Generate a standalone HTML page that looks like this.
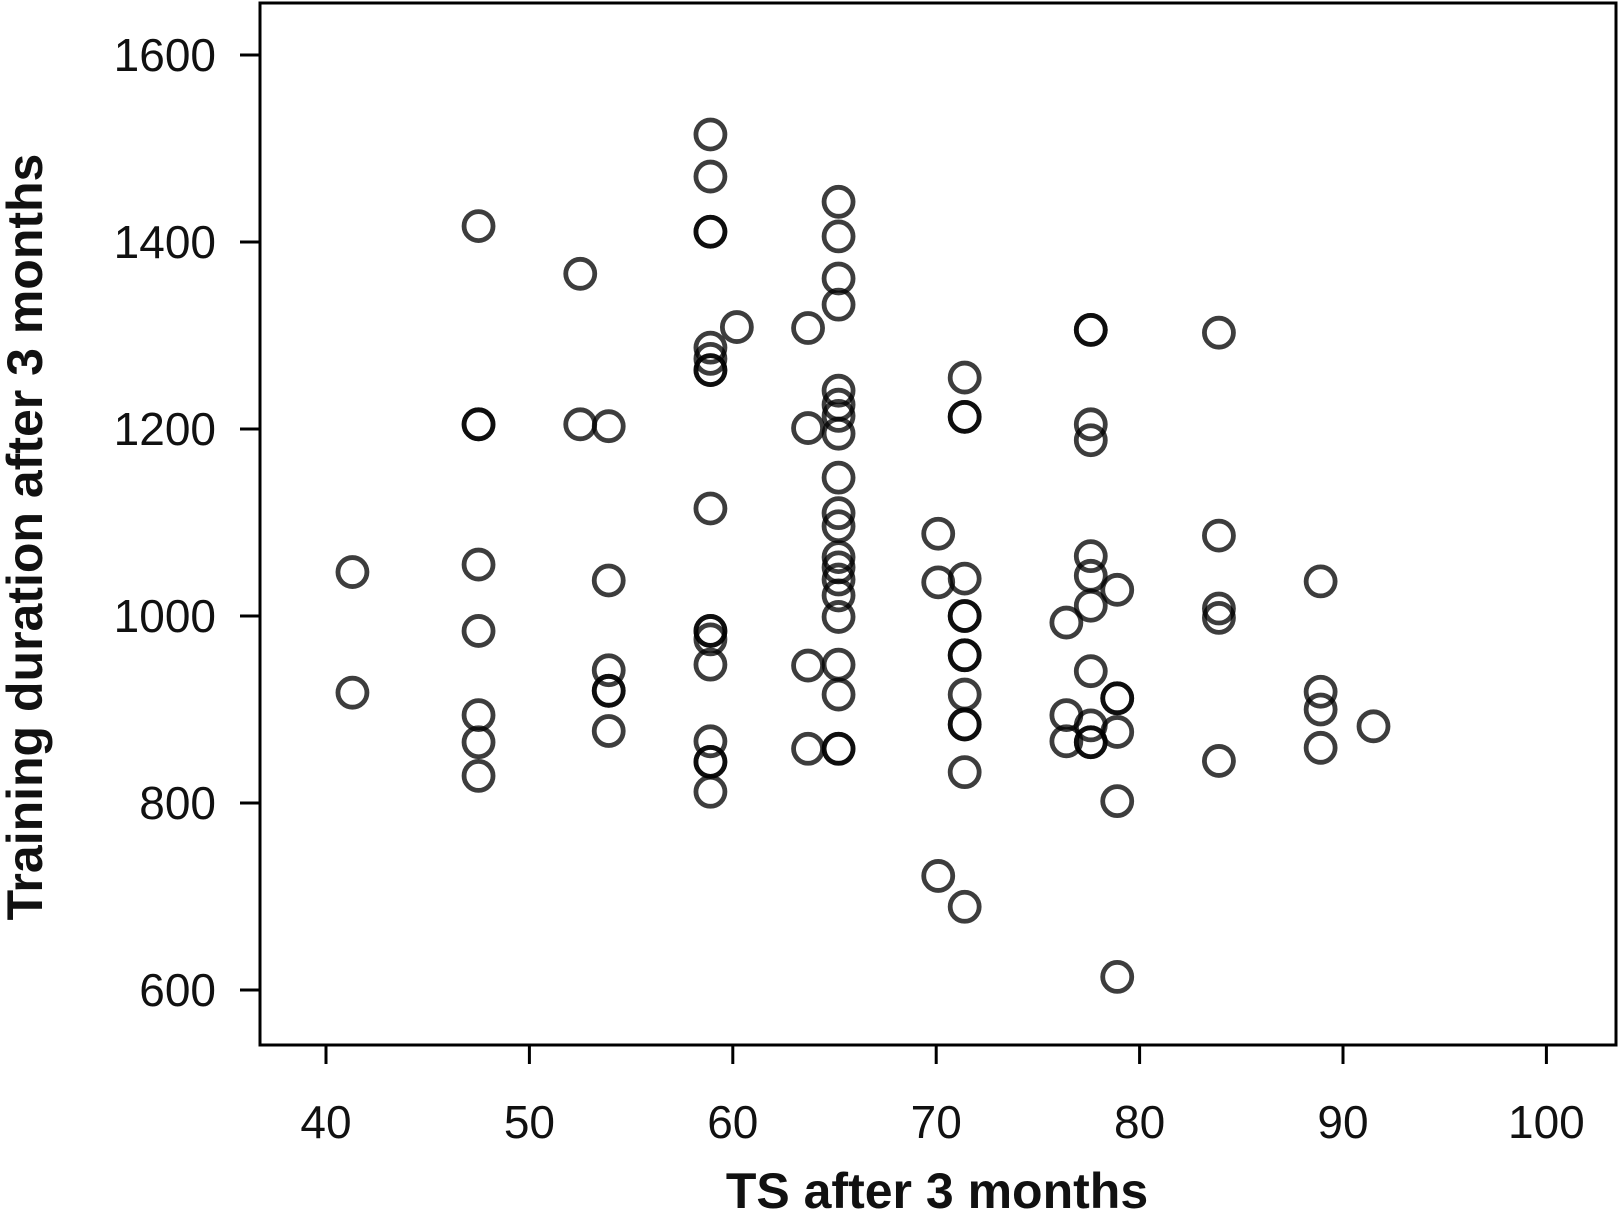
<!DOCTYPE html>
<html><head><meta charset="utf-8"><style>
body{margin:0;background:#fff}
svg{display:block;font-family:"Liberation Sans",sans-serif}
</style></head><body>
<svg id="c" width="1619" height="1212"></svg>
<script>
const xsData=[41.3,41.3,47.5,47.5,47.5,47.5,47.5,47.5,47.5,47.5,52.5,52.5,53.9,53.9,53.9,53.9,53.9,53.9,
58.9,58.9,58.9,58.9,58.9,58.9,58.9,58.9,58.9,58.9,58.9,58.9,58.9,58.9,58.9,58.9,58.9,60.2,
63.7,63.7,63.7,63.7,
65.2,65.2,65.2,65.2,65.2,65.2,65.2,65.2,65.2,65.2,65.2,65.2,65.2,65.2,65.2,65.2,65.2,65.2,65.2,65.2,
70.1,70.1,70.1,
71.4,71.4,71.4,71.4,71.4,71.4,71.4,71.4,71.4,71.4,71.4,71.4,71.4,
76.4,76.4,76.4,
77.6,77.6,77.6,77.6,77.6,77.6,77.6,77.6,77.6,77.6,77.6,
78.9,78.9,78.9,78.9,78.9,78.9,
83.9,83.9,83.9,83.9,83.9,
88.9,88.9,88.9,88.9,91.5];
const ysData=[1047,918,1417,1205,1205,1055,984,894,865,829,1366,1205,1203,1038,942,920,920,877,
1515,1470,1411,1411,1287,1275,1263,1115,984,984,975,948,866,844,844,812,1263,1309,
1308,1201,947,858,
1443,1406,1361,1333,1241,1226,1214,1195,1148,1110,1096,1063,1052,1039,1022,999,948,916,858,858,
1088,1036,722,
1255,1213,1213,1040,1000,1000,958,958,916,884,884,833,689,
993,894,866,
1306,1306,1205,1188,1064,1043,1011,941,883,865,865,
1028,912,912,876,802,614,
1303,1086,1008,998,845,
1037,919,900,859,882];
const xTicks=[40,50,60,70,80,90,100];
const yTicks=[600,800,1000,1200,1400,1600];
const ns="http://www.w3.org/2000/svg",svg=document.getElementById('c');
const X=v=>326+(v-40)*20.34, Y=v=>55+(1600-v)*0.935;
function mk(t,a,p){const e=document.createElementNS(ns,t);for(const k in a)e.setAttribute(k,a[k]);(p||svg).appendChild(e);return e;}
const frame=mk('rect',{x:260,y:3,width:1356,height:1042,fill:'none',stroke:'#000','stroke-width':3});


xTicks.forEach(v=>{
 const l=mk('line',{x1:X(v),x2:X(v),y1:1045,y2:1064,stroke:'#000','stroke-width':3});
 
 
 const t=mk('text',{x:X(v),y:1138,'text-anchor':'middle','font-size':46,fill:'#111'});t.textContent=v;
 
 
});
yTicks.forEach(v=>{
 const l=mk('line',{x1:240,x2:260,y1:Y(v),y2:Y(v),stroke:'#000','stroke-width':3});
 
 
 const t=mk('text',{x:216,y:Y(v)+16,'text-anchor':'end','font-size':46,fill:'#111'});t.textContent=v;
 
 
});
xsData.forEach((v,i)=>{
 const c=mk('circle',{cx:X(v),cy:Y(ysData[i]),r:14.5,fill:'none',stroke:'rgba(0,0,0,0.76)','stroke-width':4.8});
 
 
});
const xt=mk('text',{x:937,y:1208,'text-anchor':'middle','font-size':50,'font-weight':'bold',fill:'#111'});xt.textContent='TS after 3 months';


const yt=mk('text',{x:0,y:0,'text-anchor':'middle','font-size':50,'font-weight':'bold',fill:'#111',transform:'translate(42,537) rotate(-90)'});yt.textContent='Training duration after 3 months';


</script>
</body></html>
